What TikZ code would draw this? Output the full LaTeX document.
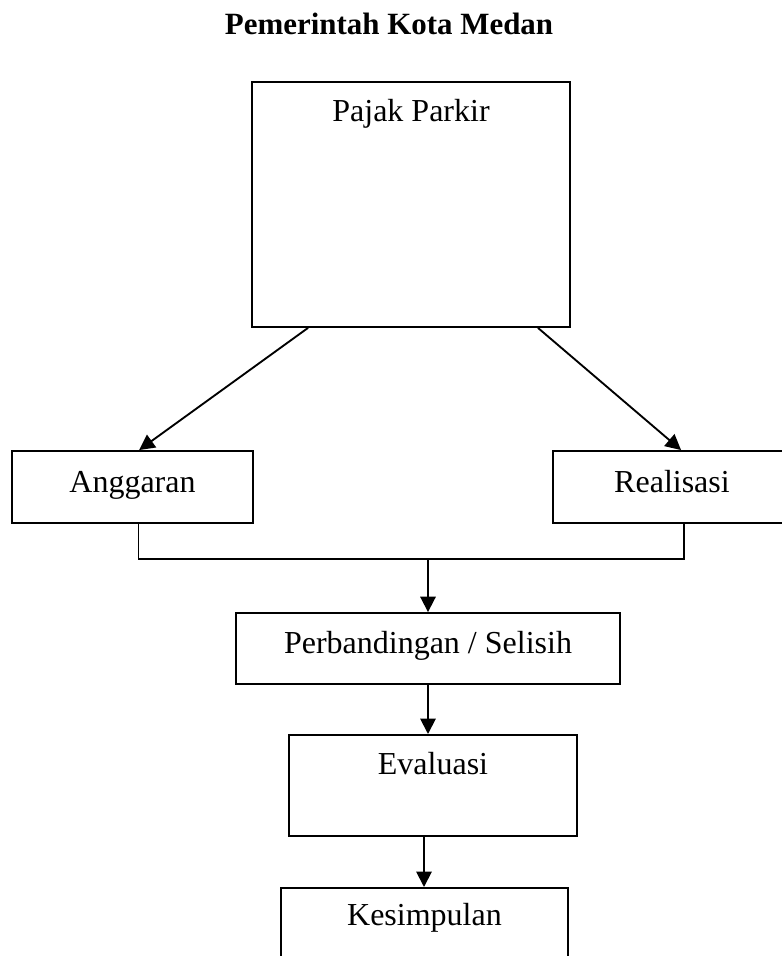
\documentclass[tikz,border=0pt]{standalone}
\usepackage{fontspec}
\setmainfont{Liberation Serif}
\usepackage{tikz}
\usetikzlibrary{arrows.meta, positioning}
\newlength{\pxu}
\setlength{\pxu}{0.375pt}
\def\fs{\fontsize{12}{14}\selectfont}
\tikzstyle{heading} = [font=\fontsize{11.6}{14}\selectfont\bfseries, anchor=base, inner sep=0pt]
\tikzstyle{block} = [rectangle, draw=black, line width=0.7pt, font=\fs, text centered,
                     text height=7pt, text depth=3.25pt]
\tikzstyle{topblock} = [block, anchor=north, inner ysep=0pt, text height=40\pxu]
\tikzstyle{arrow} = [line width=0.7pt, -{Triangle[length=5.8pt, width=5.8pt]}]

\begin{document}
\begin{tikzpicture}[x=\pxu, y=-\pxu]

  \clip (0,0) rectangle (782,956);

  \node[heading] (judul) at (389,35) {Pemerintah Kota Medan};

  \node (pajak) [topblock, minimum width=318\pxu, text depth=205\pxu] at (411,81) {Pajak Parkir};

  \node (anggaran) [block, minimum width=241\pxu, minimum height=72\pxu] at (132.5,487) {Anggaran};
  \node (realisasi) [block, minimum width=238\pxu, minimum height=72\pxu] at (672,487) {Realisasi};

  \node (banding) [block, minimum width=384\pxu, minimum height=71\pxu] at (428,648.5) {Perbandingan / Selisih};

  \node (evaluasi) [topblock, minimum width=288\pxu, text depth=61\pxu] at (433,734) {Evaluasi};

  \node (simpul) [topblock, minimum width=287\pxu, text height=38\pxu, text depth=63\pxu] at (424.5,887) {Kesimpulan};

  \coordinate (join) at (428,559);

  \draw [arrow] ([xshift=57\pxu]pajak.south west) -- ([xshift=128\pxu]anggaran.north west);
  \draw [arrow] ([xshift=-33\pxu]pajak.south east) -- ([xshift=129\pxu]realisasi.north west);
  \draw [line width=0.7pt] ([xshift=6\pxu]anggaran.south) |- (join) -| ([xshift=12\pxu]realisasi.south);
  \draw [arrow] (join) -- (join |- banding.north);
  \draw [arrow] (banding.south) -- (banding.south |- evaluasi.north);
  \draw [arrow] ([xshift=-9\pxu]evaluasi.south) -- ([xshift=-9\pxu]evaluasi.south |- simpul.north);

\end{tikzpicture}
\end{document}
